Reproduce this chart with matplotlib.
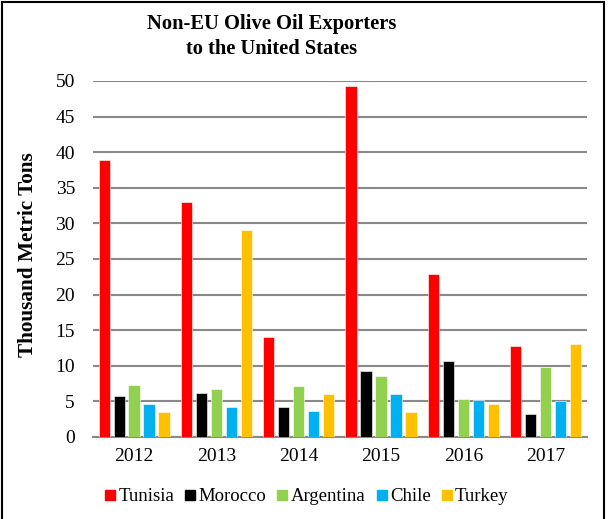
import numpy as np
import matplotlib
matplotlib.use('Agg')
import matplotlib.pyplot as plt
from matplotlib.lines import Line2D

years = ['2012', '2013', '2014', '2015', '2016', '2017']
countries = ['Tunisia', 'Morocco', 'Argentina', 'Chile', 'Turkey']
tunisia = [38.9, 33.0, 14.0, 49.3, 22.9, 12.8]
morocco = [5.8, 6.2, 4.2, 9.2, 10.7, 3.2]
argentina = [7.3, 6.8, 7.1, 8.6, 5.3, 9.8]
chile = [4.7, 4.2, 3.6, 6.0, 5.2, 5.1]
turkey = [3.55, 29.1, 6.0, 3.5, 4.7, 13.0]
series = [tunisia, morocco, argentina, chile, turkey]
colors = ['#FF0000', '#000000', '#92D050', '#00B0F0', '#FFC000']

plt.rcParams['font.family'] = ['Liberation Serif', 'DejaVu Serif']

fig = plt.figure(figsize=(6.08, 5.19), dpi=100)
ax = fig.add_axes([0.153, 0.158, 0.812, 0.686])

x = np.arange(len(years))
step = 0.182
width = 0.138
for i, (vals, c) in enumerate(zip(series, colors)):
    ax.bar(x + (i - 2) * step, vals, width=width, color=c,
           edgecolor='white', linewidth=0.4, label=countries[i], zorder=3)

ax.set_xlim(-0.5, len(years) - 0.5)
ax.set_ylim(0, 50)
ax.set_yticks(range(0, 51, 5))
ax.set_xticks(x)
ax.set_xticklabels(years)
ax.yaxis.grid(True, color='#898989', linewidth=1.5, zorder=0)
ax.set_axisbelow(True)
for s in ['top', 'right', 'left']:
    ax.spines[s].set_visible(False)
ax.spines['bottom'].set_color('#898989')
ax.spines['bottom'].set_linewidth(1.5)
ax.tick_params(axis='both', length=0, labelsize=14)
ax.tick_params(axis='y', pad=13)
ax.tick_params(axis='x', pad=8)

fig.text(28 / 608, 1 - 255 / 519, 'Thousand Metric Tons', rotation=90,
         ha='center', va='center', fontsize=15.3, fontweight='bold')

fig.text(0.447, 0.93, 'Non-EU Olive Oil Exporters\nto the United States',
         ha='center', va='center', fontsize=14.8, fontweight='bold',
         linespacing=1.3)

handles = [Line2D([0], [0], marker='s', linestyle='none', markersize=7,
                  markerfacecolor=c, markeredgecolor=c) for c in colors]
fig.legend(handles, countries, loc='center', bbox_to_anchor=(0.505, 0.043),
           ncol=5, frameon=False, fontsize=13.5, handlelength=0.5,
           handletextpad=0.2, columnspacing=0.6)

# figure border
border_kw = dict(color='black', linewidth=1.5, transform=fig.transFigure)
fig.add_artist(Line2D([0.003, 0.003], [0, 0.997], **border_kw))
fig.add_artist(Line2D([0.003, 0.994], [0.997, 0.997], **border_kw))
fig.add_artist(Line2D([0.994, 0.994], [0, 0.997], **border_kw))

fig.savefig('out.png', dpi=100)
